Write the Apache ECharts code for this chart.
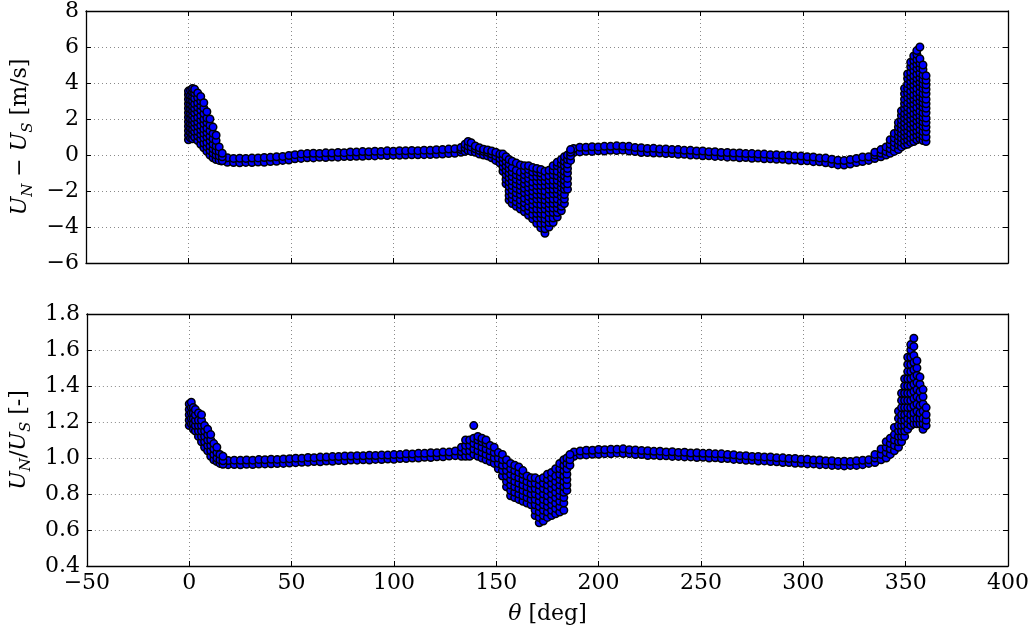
<!DOCTYPE html>
<html><head><meta charset="utf-8">
<script src="https://cdn.jsdelivr.net/npm/echarts@6/dist/echarts.min.js"></script>
<style>html,body{margin:0;padding:0;background:#fff}#c{width:1036px;height:633px}</style>
</head><body><div id="c"></div>
<script>
// ---------- DATA ----------
const xTicks = [-50, 0, 50, 100, 150, 200, 250, 300, 350, 400];

// flat band, left part and right part (theta in deg)
const bandThetaL = [16,19,22,25,28,31,34,37,40,43,46,49,52,55,58,61,64,67,70,73,76,79,82,85,88,91,94,97,100,103,106,109,112,115,118,121,124,127,130];
const bandThetaR = [188,191,194,197,200,203,206,209,212,215,218,221,224,227,230,233,236,239,242,245,248,251,254,257,260,263,266,269,272,275,278,281,284,287,290,293,296,299,302,305,308,311,314,317,320,323,326,329];

// U_N - U_S [m/s] band (upper / lower edge of point cloud)
const diffHiL = [-0.1,-0.15,-0.19,-0.18,-0.19,-0.17,-0.16,-0.14,-0.13,-0.1,-0.08,-0.03,0.02,0.06,0.08,0.1,0.09,0.12,0.11,0.14,0.13,0.17,0.16,0.19,0.18,0.21,0.2,0.23,0.21,0.24,0.23,0.25,0.24,0.27,0.26,0.29,0.3,0.33,0.35];
const diffLoL = [-0.33,-0.4,-0.42,-0.43,-0.41,-0.42,-0.39,-0.4,-0.36,-0.35,-0.3,-0.28,-0.21,-0.19,-0.15,-0.16,-0.13,-0.14,-0.11,-0.12,-0.09,-0.09,-0.07,-0.07,-0.04,-0.05,-0.02,-0.03,-0.01,-0.02,0.0,0.01,0.01,0.02,0.03,0.04,0.05,0.08,0.1];
const diffHiR = [0.36,0.43,0.43,0.46,0.45,0.48,0.48,0.51,0.49,0.48,0.41,0.4,0.36,0.37,0.33,0.34,0.3,0.3,0.26,0.26,0.22,0.22,0.18,0.18,0.14,0.14,0.11,0.11,0.08,0.08,0.05,0.05,0.01,0.02,-0.02,-0.02,-0.06,-0.06,-0.1,-0.11,-0.16,-0.17,-0.24,-0.29,-0.31,-0.25,-0.19,-0.11];
const diffLoR = [0.14,0.17,0.21,0.2,0.23,0.22,0.26,0.25,0.27,0.22,0.19,0.14,0.14,0.11,0.11,0.08,0.08,0.04,0.04,0.0,0.0,-0.04,-0.04,-0.08,-0.08,-0.12,-0.11,-0.15,-0.14,-0.18,-0.17,-0.21,-0.21,-0.24,-0.24,-0.28,-0.28,-0.32,-0.32,-0.37,-0.38,-0.43,-0.48,-0.55,-0.56,-0.5,-0.42,-0.36];

// clusters: [theta, [values at that theta]]
const diffLeftPeak = [
  [0,[0.85,1.1,1.35,1.6,1.85,2.1,2.35,2.6,2.85,3.1,3.35,3.55]],
  [1,[0.95,1.25,1.5,1.75,2.0,2.3,2.55,2.8,3.05,3.3,3.6]],
  [2,[0.9,1.15,1.4,1.7,1.95,2.2,2.45,2.7,3.0,3.25,3.5,3.7]],
  [3,[1.0,1.3,1.55,1.8,2.05,2.35,2.6,2.85,3.15,3.45,3.65]],
  [4.5,[0.8,1.05,1.3,1.6,1.85,2.1,2.4,2.65,2.9,3.2,3.45]],
  [6,[0.6,0.9,1.15,1.4,1.65,1.95,2.2,2.5,2.75,3.0,3.25]],
  [7.5,[0.4,0.65,0.95,1.2,1.45,1.75,2.0,2.3,2.6,2.9]],
  [9,[0.2,0.45,0.7,1.0,1.25,1.5,1.8,2.05,2.4]],
  [10.5,[0.0,0.25,0.5,0.8,1.05,1.35,1.65,2.0]],
  [12,[-0.15,0.1,0.35,0.6,0.9,1.2,1.55]],
  [13.5,[-0.25,0.0,0.25,0.5,0.8,1.1]],
  [15,[-0.3,-0.05,0.2,0.45]],
  [16.5,[-0.32,-0.1,0.1]]
];
const diffDip = [
  [133,[0.15,0.3,0.42]],
  [135,[0.2,0.4,0.6]],
  [136.5,[0.25,0.5,0.75]],
  [138,[0.2,0.45,0.68]],
  [140,[0.15,0.35,0.5]],
  [142,[0.05,0.25,0.4]],
  [144,[0.0,0.2,0.32]],
  [146,[-0.05,0.15,0.28]],
  [148,[-0.15,0.05,0.22]],
  [150,[-0.3,-0.05,0.15]],
  [152,[-0.45,-0.2,0.05]],
  [153.5,[-0.9,-0.65,-0.4,-0.15,0.05]],
  [155,[-1.6,-1.35,-1.1,-0.85,-0.6,-0.35,-0.1]],
  [156.5,[-2.5,-2.25,-2.0,-1.75,-1.5,-1.25,-1.0,-0.75,-0.5,-0.25]],
  [158,[-2.7,-2.45,-2.2,-1.95,-1.7,-1.45,-1.2,-0.95,-0.7,-0.35]],
  [160,[-2.85,-2.6,-2.35,-2.1,-1.85,-1.6,-1.35,-1.1,-0.85,-0.45]],
  [162,[-3.0,-2.75,-2.5,-2.2,-1.95,-1.7,-1.45,-1.2,-0.95,-0.55]],
  [164,[-3.15,-2.9,-2.65,-2.4,-2.1,-1.85,-1.6,-1.35,-1.1,-0.85,-0.6]],
  [166,[-3.35,-3.1,-2.85,-2.55,-2.3,-2.05,-1.8,-1.55,-1.3,-1.05,-0.8,-0.6]],
  [168,[-3.55,-3.3,-3.0,-2.75,-2.5,-2.25,-2.0,-1.75,-1.5,-1.2,-0.95,-0.7]],
  [170,[-3.8,-3.5,-3.25,-3.0,-2.7,-2.45,-2.2,-1.95,-1.7,-1.45,-1.2,-0.95,-0.75]],
  [172,[-4.05,-3.8,-3.5,-3.25,-3.0,-2.75,-2.45,-2.2,-1.95,-1.7,-1.45,-1.2,-1.0,-0.8]],
  [174,[-4.35,-4.1,-3.8,-3.55,-3.3,-3.0,-2.75,-2.5,-2.25,-2.0,-1.7,-1.45,-1.2,-0.9]],
  [176,[-4.0,-3.75,-3.5,-3.2,-2.95,-2.7,-2.45,-2.2,-1.9,-1.65,-1.4,-1.15,-0.85]],
  [178,[-3.75,-3.5,-3.2,-2.95,-2.7,-2.45,-2.15,-1.9,-1.65,-1.4,-1.1,-0.85,-0.6]],
  [180,[-3.45,-3.2,-2.95,-2.7,-2.45,-2.15,-1.9,-1.65,-1.4,-1.15,-0.9,-0.6,-0.4]],
  [182,[-3.1,-2.85,-2.6,-2.3,-2.05,-1.8,-1.55,-1.3,-1.05,-0.8,-0.5,-0.25]],
  [183.5,[-2.7,-2.45,-2.2,-1.9,-1.65,-1.4,-1.15,-0.9,-0.6,-0.35,-0.1]],
  [185,[-1.9,-1.6,-1.3,-1.0,-0.75,-0.5,-0.25,0.0]],
  [186.5,[-0.3,-0.05,0.15,0.3]]
];
const diffRightPeak = [
  [332,[-0.3,-0.1]],
  [335,[-0.2,0.0,0.15]],
  [338,[-0.1,0.1,0.3]],
  [340.5,[0.0,0.2,0.45]],
  [342.5,[0.1,0.35,0.6,0.85]],
  [344.5,[0.2,0.45,0.7,0.95,1.2]],
  [346.5,[0.3,0.55,0.8,1.05,1.3,1.55,1.8]],
  [348,[0.45,0.7,0.95,1.2,1.45,1.7,1.95,2.2,2.45]],
  [349.5,[0.55,0.8,1.05,1.3,1.55,1.8,2.05,2.3,2.6,2.85,3.1,3.4,3.7]],
  [351,[0.6,0.85,1.1,1.35,1.6,1.9,2.15,2.4,2.65,2.9,3.2,3.45,3.7,3.95,4.25,4.5]],
  [352.5,[0.7,0.95,1.2,1.5,1.75,2.0,2.25,2.5,2.8,3.05,3.3,3.55,3.85,4.1,4.35,4.6,4.9,5.15]],
  [354,[0.75,1.0,1.3,1.55,1.8,2.05,2.3,2.6,2.85,3.1,3.35,3.65,3.9,4.15,4.4,4.7,4.95,5.25,5.5]],
  [355.5,[0.85,1.1,1.35,1.6,1.9,2.15,2.4,2.65,2.95,3.2,3.45,3.7,4.0,4.25,4.5,4.8,5.05,5.3,5.6,5.8]],
  [357,[0.9,1.15,1.4,1.7,1.95,2.2,2.45,2.75,3.0,3.25,3.5,3.8,4.05,4.3,4.55,4.85,5.1,5.35,6.0]],
  [358.5,[0.8,1.05,1.3,1.6,1.85,2.1,2.35,2.65,2.9,3.15,3.4,3.7,3.95,4.2,4.45,4.75,5.0]],
  [360,[0.75,1.0,1.3,1.55,1.8,2.05,2.35,2.6,2.85,3.1,3.4,3.65,3.9,4.15,4.4]]
];

// U_N / U_S [-]
const ratioHiL = [0.993,0.986,0.988,0.987,0.989,0.988,0.991,0.99,0.993,0.992,0.995,0.996,0.999,0.999,1.003,1.002,1.005,1.005,1.008,1.008,1.011,1.011,1.013,1.012,1.015,1.014,1.017,1.016,1.019,1.019,1.023,1.022,1.026,1.026,1.029,1.029,1.033,1.033,1.039];
const ratioLoL = [0.968,0.963,0.964,0.962,0.965,0.964,0.966,0.967,0.968,0.969,0.97,0.972,0.974,0.976,0.977,0.98,0.979,0.983,0.982,0.986,0.985,0.989,0.988,0.99,0.989,0.992,0.991,0.994,0.993,0.997,0.997,1.0,1.0,1.004,1.003,1.007,1.007,1.011,1.013];
const ratioHiR = [1.034,1.039,1.043,1.043,1.047,1.046,1.049,1.049,1.051,1.046,1.045,1.041,1.04,1.037,1.038,1.034,1.035,1.031,1.032,1.028,1.029,1.026,1.026,1.023,1.023,1.019,1.018,1.013,1.013,1.009,1.009,1.006,1.006,1.001,1.001,0.997,0.997,0.993,0.993,0.989,0.989,0.985,0.985,0.981,0.982,0.981,0.985,0.987];
const ratioLoR = [1.01,1.016,1.017,1.021,1.021,1.024,1.023,1.027,1.025,1.024,1.019,1.019,1.014,1.015,1.012,1.012,1.009,1.009,1.006,1.006,1.003,1.004,1.0,1.001,0.997,0.997,0.992,0.991,0.987,0.987,0.983,0.984,0.98,0.979,0.975,0.975,0.971,0.971,0.967,0.967,0.963,0.963,0.959,0.959,0.956,0.959,0.959,0.963];

const ratioLeftPeak = [
  [0,[1.18,1.21,1.24,1.27,1.3]],
  [1,[1.19,1.22,1.25,1.28,1.31]],
  [2,[1.16,1.19,1.22,1.25,1.28]],
  [3,[1.15,1.18,1.21,1.24,1.27]],
  [4.5,[1.12,1.15,1.18,1.21,1.25]],
  [6,[1.09,1.12,1.15,1.18,1.21,1.24]],
  [7.5,[1.06,1.09,1.12,1.15,1.18]],
  [9,[1.04,1.07,1.1,1.13,1.16]],
  [10.5,[1.01,1.04,1.07,1.1,1.13]],
  [12,[0.99,1.02,1.05,1.08]],
  [13.5,[0.98,1.0,1.03,1.06]],
  [15,[0.97,0.99,1.02]],
  [16.5,[0.965,0.985,1.01]]
];
const ratioDip = [
  [133,[1.01,1.035,1.06]],
  [135,[1.01,1.04,1.07,1.1]],
  [137,[1.01,1.04,1.07,1.1]],
  [139,[1.02,1.05,1.08,1.11,1.18]],
  [141,[1.01,1.04,1.07,1.1,1.12]],
  [143,[1.0,1.03,1.06,1.09,1.11]],
  [145,[0.99,1.02,1.05,1.08,1.1]],
  [147,[0.98,1.01,1.04,1.07]],
  [149,[0.97,1.0,1.03,1.06]],
  [151,[0.94,0.97,1.0,1.03]],
  [153,[0.9,0.93,0.96,0.99,1.02]],
  [155,[0.84,0.87,0.9,0.93,0.96,0.99]],
  [157,[0.79,0.82,0.85,0.88,0.91,0.94,0.97]],
  [159,[0.78,0.81,0.84,0.87,0.9,0.93,0.96]],
  [161,[0.77,0.8,0.83,0.86,0.89,0.92,0.95]],
  [163,[0.76,0.79,0.82,0.85,0.88,0.91,0.93]],
  [165,[0.75,0.78,0.81,0.84,0.87,0.9]],
  [167,[0.74,0.77,0.8,0.83,0.86,0.89]],
  [169,[0.68,0.71,0.74,0.77,0.8,0.83,0.86,0.89]],
  [171,[0.64,0.67,0.7,0.73,0.76,0.79,0.82,0.85,0.88]],
  [173,[0.65,0.68,0.71,0.74,0.77,0.8,0.83,0.86,0.89]],
  [175,[0.67,0.7,0.73,0.76,0.79,0.82,0.85,0.88,0.91]],
  [177,[0.68,0.71,0.74,0.77,0.8,0.83,0.86,0.89,0.92]],
  [179,[0.69,0.72,0.75,0.78,0.81,0.84,0.87,0.9,0.94]],
  [181,[0.7,0.73,0.76,0.79,0.82,0.85,0.88,0.91,0.94,0.97]],
  [183,[0.71,0.75,0.78,0.81,0.84,0.87,0.9,0.93,0.96,0.99]],
  [184.5,[0.82,0.85,0.88,0.91,0.94,0.97,1.0]],
  [186,[0.96,0.99,1.02]]
];
const ratioRightPeak = [
  [332,[0.97,0.99]],
  [335,[0.975,1.0,1.02]],
  [338,[0.99,1.02,1.05]],
  [340.5,[1.0,1.03,1.06,1.09]],
  [342.5,[1.02,1.05,1.08,1.11]],
  [344.5,[1.04,1.07,1.1,1.13,1.17]],
  [346.5,[1.06,1.09,1.12,1.15,1.18,1.22,1.26]],
  [348,[1.09,1.12,1.15,1.18,1.21,1.24,1.28,1.32,1.36]],
  [349.5,[1.12,1.15,1.18,1.21,1.24,1.28,1.32,1.36,1.4,1.44]],
  [351,[1.16,1.19,1.22,1.25,1.28,1.32,1.36,1.4,1.44,1.48,1.52,1.56]],
  [352.5,[1.18,1.21,1.24,1.28,1.32,1.36,1.4,1.44,1.48,1.52,1.56,1.6,1.63]],
  [354,[1.19,1.22,1.25,1.29,1.33,1.37,1.41,1.45,1.49,1.53,1.57,1.62,1.665]],
  [355.5,[1.19,1.22,1.26,1.3,1.34,1.38,1.42,1.46,1.5,1.54]],
  [357,[1.19,1.22,1.25,1.29,1.33,1.37,1.41,1.45]],
  [358.5,[1.16,1.19,1.22,1.26,1.3,1.34,1.38]],
  [360,[1.18,1.21,1.24,1.28]]
];

// ---------- BUILD ----------
function zip(thetas, vals) {
  const out = [];
  const n = Math.min(thetas.length, vals.length);
  for (let i = 0; i < n; i++) out.push([thetas[i], vals[i]]);
  return out;
}
function cols(list) {
  const out = [];
  list.forEach(([t, vs]) => vs.forEach(v => out.push([t, v])));
  return out;
}
const topData = [].concat(
  zip(bandThetaL, diffLoL), zip(bandThetaL, diffHiL),
  zip(bandThetaR, diffLoR), zip(bandThetaR, diffHiR),
  cols(diffLeftPeak), cols(diffDip), cols(diffRightPeak));
const botData = [].concat(
  zip(bandThetaL, ratioLoL), zip(bandThetaL, ratioHiL),
  zip(bandThetaR, ratioLoR), zip(bandThetaR, ratioHiR),
  cols(ratioLeftPeak), cols(ratioDip), cols(ratioRightPeak));

const FONT = 'DejaVu Serif';
const minusFmt = v => String(v).replace('-', '\u2212');
const tick = {show: true, inside: true, length: 5, lineStyle: {color: '#000', width: 1}};
const line = {show: true, onZero: false, lineStyle: {color: '#000', width: 1.3}};
const split = {show: true, lineStyle: {color: '#8a8a8a', width: 1, type: [1, 3]}};
const lbl = {fontFamily: FONT, fontSize: 22, color: '#000'};

function xAx(grid, pos, main, labels, name) {
  return {
    type: 'value', gridIndex: grid, position: pos, min: -50, max: 400, interval: 50,
    axisLine: line, axisTick: tick, splitLine: main ? split : {show: false},
    axisLabel: Object.assign({show: labels, margin: 6, formatter: minusFmt}, lbl),
    name: name || '', nameLocation: 'middle', nameGap: 37,
    nameTextStyle: name ? {fontFamily: FONT, fontSize: 22, color: '#000',
      rich: {i: {fontFamily: FONT, fontStyle: 'italic', fontSize: 22, color: '#000'},
             n: {fontFamily: FONT, fontSize: 22, color: '#000'}}} : {}
  };
}
function yAx(grid, pos, main, min, max, interval, fmt, name) {
  return {
    type: 'value', gridIndex: grid, position: pos, min: min, max: max, interval: interval,
    axisLine: line, axisTick: tick, splitLine: main ? split : {show: false},
    axisLabel: Object.assign({show: main, margin: 7, formatter: fmt}, lbl),
    name: name || '', nameLocation: 'middle', nameGap: 42, nameRotate: 90,
    nameTextStyle: name ? {
      rich: {
        i: {fontFamily: FONT, fontStyle: 'italic', fontSize: 22, color: '#000', lineHeight: 30},
        s: {fontFamily: FONT, fontStyle: 'italic', fontSize: 15, color: '#000', verticalAlign: 'bottom', lineHeight: 15},
        n: {fontFamily: FONT, fontSize: 22, color: '#000', lineHeight: 30}
      }} : {}
  };
}

const pointStyle = {color: '#0000ff', borderColor: '#000', borderWidth: 1.5, opacity: 1};
const option = {
  animation: false,
  backgroundColor: '#fff',
  grid: [
    {left: 86, top: 10, width: 922, height: 253, containLabel: false},
    {left: 86, top: 314, width: 922, height: 252, containLabel: false}
  ],
  xAxis: [
    xAx(0, 'bottom', true, false),
    xAx(0, 'top', false, false),
    xAx(1, 'bottom', true, true, '{i|\u03b8}{n| [deg]}'),
    xAx(1, 'top', false, false)
  ],
  yAxis: [
    yAx(0, 'left', true, -6, 8, 2, minusFmt, '{i|U}{s|N}{n| \u2212 }{i|U}{s|S}{n| [m/s]}'),
    yAx(0, 'right', false, -6, 8, 2, minusFmt),
    yAx(1, 'left', true, 0.4, 1.8, 0.2, v => v.toFixed(1), '{i|U}{s|N}{n|/}{i|U}{s|S}{n| [-]}'),
    yAx(1, 'right', false, 0.4, 1.8, 0.2, v => v.toFixed(1))
  ],
  series: [
    {type: 'scatter', xAxisIndex: 0, yAxisIndex: 0, data: topData, symbol: 'circle', symbolSize: 7.5,
     itemStyle: pointStyle, emphasis: {disabled: true}},
    {type: 'scatter', xAxisIndex: 2, yAxisIndex: 2, data: botData, symbol: 'circle', symbolSize: 7.5,
     itemStyle: pointStyle, emphasis: {disabled: true}}
  ]
};
const chart = echarts.init(document.getElementById('c'));
chart.setOption(option);
</script></body></html>
